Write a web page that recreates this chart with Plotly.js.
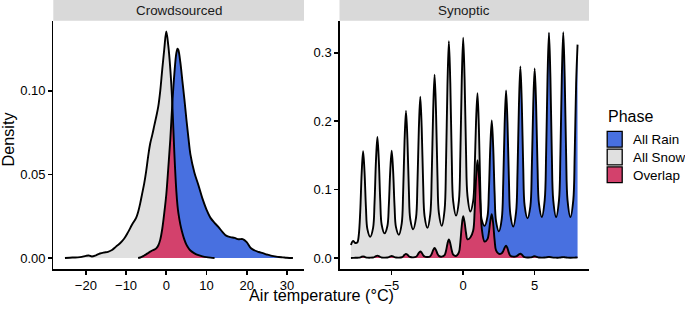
<!DOCTYPE html>
<html><head><meta charset="utf-8">
<script src="https://cdn.plot.ly/plotly-3.0.1.min.js"></script>
<style>html,body{margin:0;padding:0;background:#fff}#chart{width:685px;height:310px}</style>
</head><body><div id="chart"></div>
<script>
// ---------- data ----------
const panels = ["Crowdsourced", "Synoptic"];
const phases = ["All Rain", "All Snow", "Overlap"];
const legendTitle = "Phase";
const xTitle = "Air temperature (°C)";
const yTitle = "Density";

// Crowdsourced panel (common x grid; null = outside the group's range)
const cX = [-25.2,-24,-23,-22,-21,-20,-19.3,-18.5,-17.5,-16.5,-15.5,-14.5,-13.5,-12.5,-11.5,-10.5,-9.5,-8.5,-7.5,
  -7,-6.5,-6,-5.5,-5,-4.5,-4,-3.5,-3,-2.5,-2,-1.5,-1,-0.5,0,0.5,1,1.5,2,2.5,
  2.8,3,3.5,4,4.5,5,5.5,6,
  7,8,9,10,11,12,13,14,15,16,17,18,19,20,21,22,23,24,25,26,27,28,29,30,31.5];
const cSnow = [0,0.0002,0.0003,0.0004,0.0007,0.0013,0.0015,0.0009,0.0016,0.0027,0.0033,0.0037,0.0048,0.0068,0.0088,0.0115,0.0155,0.0200,0.0240,
  0.0275,0.0325,0.0385,0.0445,0.052,0.061,0.0685,0.0735,0.079,0.0845,0.0905,0.100,0.113,0.125,0.1355,0.127,0.113,0.0925,0.063,0.040,
  0.031,0.027,0.020,0.015,0.011,0.008,0.006,0.0045,
  0.0028,0.0017,0.001,0.0005,0.0002,0,null,null,null,null,null,null,null,null,null,null,null,null,null,null,null,null,null,null,null];
const cRain = [null,null,null,null,null,null,null,null,null,null,null,null,null,null,null,null,null,null,null,
  0,0.0003,0.0008,0.0015,0.0022,0.003,0.0038,0.0045,0.005,0.0058,0.0075,0.011,0.0175,0.027,0.038,0.054,0.071,0.0925,0.110,0.1225,
  0.1252,0.1245,0.117,0.106,0.095,0.083,0.072,0.062,
  0.051,0.0435,0.0355,0.029,0.024,0.021,0.0185,0.0155,0.0132,0.0125,0.0120,0.0112,0.0113,0.0095,0.006,0.0045,0.0036,0.0029,0.0021,0.0014,0.001,0.0006,0.0004,0.0002,0];

// Synoptic panel (common x grid)
const sX = [-7.85,-7.7,-7.55,-7.4,
  -7.3,-7.2,-7.1,-7,-6.9,-6.8,-6.7,-6.5,
  -6.3,-6.2,-6.1,-6,-5.9,-5.8,-5.7,-5.5,
  -5.3,-5.2,-5.1,-5,-4.9,-4.8,-4.7,-4.5,
  -4.3,-4.2,-4.1,-4,-3.9,-3.8,-3.7,-3.5,
  -3.3,-3.2,-3.1,-3,-2.9,-2.8,-2.7,-2.5,
  -2.3,-2.2,-2.1,-2,-1.9,-1.8,-1.7,-1.5,
  -1.3,-1.2,-1.1,-1,-0.9,-0.8,-0.7,-0.5,
  -0.3,-0.2,-0.1,0,0.1,0.2,0.3,0.5,
  0.7,0.8,0.9,1,1.1,1.2,1.3,1.5,
  1.7,1.8,1.9,2,2.1,2.2,2.3,2.5,
  2.7,2.8,2.9,3,3.1,3.2,3.3,3.5,
  3.7,3.8,3.9,4,4.1,4.2,4.3,4.5,
  4.7,4.8,4.9,5,5.1,5.2,5.3,5.5,
  5.7,5.8,5.9,6,6.1,6.2,6.3,6.5,
  6.7,6.8,6.9,7,7.1,7.2,7.3,7.5,
  7.7,7.8,7.9,8];
const sSnow = [0.019,0.025,0.022,0.023,
  0.034,0.0676,0.124,0.156,0.126,0.0735,0.0423,0.031,
  0.0441,0.0806,0.142,0.177,0.143,0.084,0.0487,0.036,
  0.0469,0.0771,0.128,0.157,0.1275,0.0758,0.0451,0.034,
  0.0503,0.0955,0.1716,0.215,0.173,0.1002,0.0567,0.042,
  0.0586,0.1073,0.1892,0.236,0.190,0.1093,0.0613,0.044,
  0.0642,0.1202,0.2142,0.268,0.2147,0.1215,0.066,0.047,
  0.0704,0.1381,0.252,0.317,0.2553,0.1474,0.0831,0.062,
  0.0836,0.149,0.259,0.322,0.261,0.1544,0.0909,0.068,
  0.0836,0.1268,0.1995,0.241,0.189,0.0978,0.0435,0.024,
  0.0276,0.0376,0.0544,0.064,0.0501,0.0257,0.0112,0.006,
  0.0071,0.0101,0.0151,0.018,0.0142,0.0074,0.0034,0.002,
  0.0024,0.0035,0.0053,0.0063,0.005,0.0026,0.0013,0.0008,
  0.0009,0.0013,0.0021,0.0025,0.0021,0.0012,0.0008,0.0006,
  0.0007,0.0009,0.0013,0.0016,0.0013,0.0009,0.0006,0.0005,
  0.0005,0.0007,0.0011,0.0013,0.0011,0.0007,0.0005,0.0004,
  0.0005,0.0006,0.0008,0.001];
const sRain = [0.0001,0.0002,0.0003,0.0003,
  0.0005,0.001,0.0018,0.0023,0.0018,0.001,0.0006,0.0005,
  0.0008,0.0015,0.0028,0.0035,0.0028,0.0015,0.0008,0.0005,
  0.0007,0.0014,0.0024,0.003,0.0024,0.0014,0.0008,0.0006,
  0.0011,0.0024,0.0047,0.006,0.0048,0.0027,0.0015,0.001,
  0.0018,0.004,0.0076,0.0097,0.0077,0.0043,0.0022,0.0015,
  0.0027,0.006,0.0115,0.0146,0.0116,0.0063,0.0031,0.002,
  0.0043,0.0105,0.021,0.027,0.0212,0.0112,0.0051,0.003,
  0.0082,0.0227,0.0471,0.061,0.052,0.0366,0.0273,0.030,
  0.0402,0.0684,0.1159,0.143,0.120,0.0796,0.0556,0.047,
  0.0609,0.0994,0.164,0.201,0.1621,0.0941,0.0536,0.039,
  0.0575,0.109,0.1956,0.245,0.1972,0.1137,0.0639,0.046,
  0.0671,0.1256,0.2238,0.280,0.2262,0.1322,0.0762,0.058,
  0.0759,0.1311,0.224,0.277,0.2249,0.1338,0.0795,0.060,
  0.0843,0.1516,0.2648,0.3295,0.2648,0.1516,0.0843,0.060,
  0.0843,0.1518,0.2652,0.330,0.2652,0.1518,0.0843,0.060,
  0.0843,0.1518,0.255,0.312];

// tick labels
const cTickVals = [-20,-10,0,10,20,30];
const cTickText = ["\u221220","\u221210","0","10","20","30"];
const cYTickVals = [0,0.05,0.10];
const cYTickText = ["0.00","0.05","0.10"];
const sTickVals = [-5,0,5];
const sTickText = ["\u22125","0","5"];
const sYTickVals = [0,0.1,0.2,0.3];
const sYTickText = ["0.0","0.1","0.2","0.3"];

// ---------- styles ----------
const FONT = "Liberation Sans, Arial, Helvetica, sans-serif";
const COL = {"All Rain":"#4870E0", "All Snow":"#E0E0E0", "Overlap":"#D3416C"};
const W = 685, H = 310;
const px = v => v / W, py = v => 1 - v / H;

function minArr(a, b) {
  return a.map((v, i) => (v == null || b[i] == null) ? null : Math.min(v, b[i]));
}
function panelTraces(x, snow, rain, xa, ya) {
  const ov = minArr(snow, rain);
  const base = {x: x, mode: 'lines', xaxis: xa, yaxis: ya, hoverinfo: 'skip', showlegend: false};
  const fillT = (y, c) => Object.assign({}, base, {y: y, fill: 'tozeroy', fillcolor: c,
    line: {width: 0, shape: 'spline', smoothing: 1, color: c}});
  const lineT = y => Object.assign({}, base, {y: y, line: {width: 1.9, color: '#000', shape: 'spline', smoothing: 1}});
  return [fillT(snow, COL["All Snow"]), fillT(rain, COL["All Rain"]), fillT(ov, COL["Overlap"]),
          lineT(snow), lineT(rain)];
}

const data = [].concat(
  panelTraces(cX, cSnow, cRain, 'x', 'y'),
  panelTraces(sX, sSnow, sRain, 'x2', 'y2')
);

const axisCommon = {showline: true, linecolor: '#000', linewidth: 1.6, ticks: 'outside', ticklen: 3.6,
  tickwidth: 1.6, tickcolor: '#000', showgrid: false, zeroline: false, tickmode: 'array',
  tickfont: {family: FONT, size: 13, color: '#000'}, fixedrange: true};

const P1 = [53.3, 304], P2 = [339.5, 589], PY = [21, 269.3];

const shapes = [
  {type: 'rect', xref: 'paper', yref: 'paper', x0: px(P1[0]), x1: px(P1[1]), y0: py(20.7), y1: 1, fillcolor: '#D9D9D9', line: {width: 0}},
  {type: 'rect', xref: 'paper', yref: 'paper', x0: px(P2[0]), x1: px(P2[1]), y0: py(20.7), y1: 1, fillcolor: '#D9D9D9', line: {width: 0}}
];
const annotations = [
  {text: panels[0], xref: 'paper', yref: 'paper', x: px((P1[0] + P1[1]) / 2), y: py(10.5), showarrow: false,
   xanchor: 'center', yanchor: 'middle', font: {family: FONT, size: 13.4, color: '#1a1a1a'}},
  {text: panels[1], xref: 'paper', yref: 'paper', x: px((P2[0] + P2[1]) / 2), y: py(10.5), showarrow: false,
   xanchor: 'center', yanchor: 'middle', font: {family: FONT, size: 13.4, color: '#1a1a1a'}},
  {text: xTitle, xref: 'paper', yref: 'paper', x: px(321.5), y: py(294.5), showarrow: false,
   xanchor: 'center', yanchor: 'middle', font: {family: FONT, size: 16.2, color: '#000'}},
  {text: yTitle, xref: 'paper', yref: 'paper', x: px(7.5), y: py(139), showarrow: false, textangle: -90,
   xanchor: 'center', yanchor: 'middle', font: {family: FONT, size: 16.2, color: '#000'}},
  {text: legendTitle, xref: 'paper', yref: 'paper', x: px(606), y: py(116), showarrow: false,
   xanchor: 'left', yanchor: 'middle', font: {family: FONT, size: 16, color: '#000'}}
];
const keyTops = [131.3, 149.1, 166.9];
phases.forEach((p, i) => {
  shapes.push({type: 'rect', xref: 'paper', yref: 'paper', x0: px(607.2), x1: px(622.2),
    y0: py(keyTops[i] + 15.8), y1: py(keyTops[i]), fillcolor: COL[p], line: {color: '#000', width: 1.3}});
  annotations.push({text: p, xref: 'paper', yref: 'paper', x: px(631), y: py(keyTops[i] + 8.2), showarrow: false,
    xanchor: 'left', yanchor: 'middle', font: {family: FONT, size: 13.4, color: '#000'}});
});

const layout = {
  width: W, height: H, margin: {l: 0, r: 0, t: 0, b: 0}, paper_bgcolor: '#fff', plot_bgcolor: '#fff',
  showlegend: false,
  xaxis: Object.assign({}, axisCommon, {domain: [px(P1[0]), px(P1[1])], range: [-28.1, 34.25], anchor: 'y',
    tickvals: cTickVals, ticktext: cTickText}),
  yaxis: Object.assign({}, axisCommon, {domain: [py(PY[1]), py(PY[0])], range: [-0.00675, 0.14175], anchor: 'x',
    tickvals: cYTickVals, ticktext: cYTickText}),
  xaxis2: Object.assign({}, axisCommon, {domain: [px(P2[0]), px(P2[1])], range: [-8.65, 8.8], anchor: 'y2',
    tickvals: sTickVals, ticktext: sTickText}),
  yaxis2: Object.assign({}, axisCommon, {domain: [py(PY[1]), py(PY[0])], range: [-0.0165, 0.3465], anchor: 'x2',
    tickvals: sYTickVals, ticktext: sYTickText}),
  shapes: shapes, annotations: annotations
};

Plotly.newPlot('chart', data, layout, {displayModeBar: false, staticPlot: true});
</script>
</body></html>
